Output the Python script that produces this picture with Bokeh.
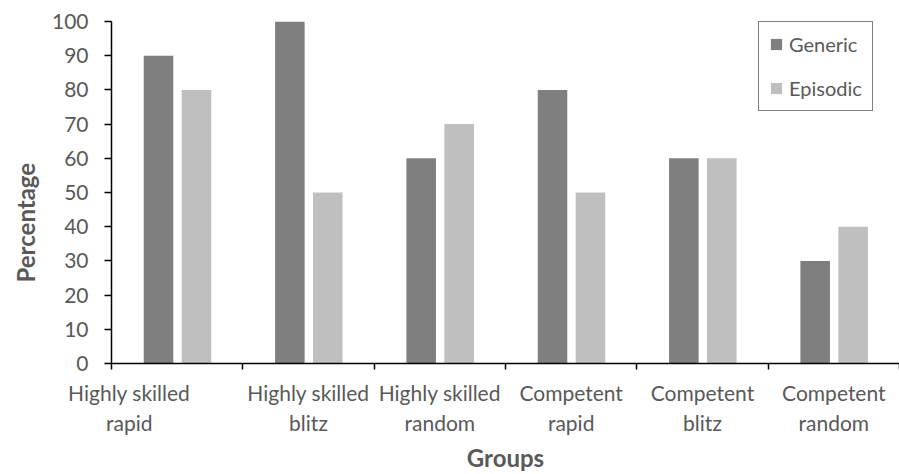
from bokeh.plotting import figure
from bokeh.models import (ColumnDataSource, Range1d, FixedTicker, Legend, LegendItem, Title)
from bokeh.transform import dodge
from bokeh.embed import file_html
from bokeh.resources import INLINE

categories = ["Highly skilled\nrapid", "Highly skilled\nblitz", "Highly skilled\nrandom",
              "Competent\nrapid", "Competent\nblitz", "Competent\nrandom"]
generic = [90, 100, 60, 80, 60, 30]
episodic = [80, 50, 70, 50, 60, 40]
y_ticks = [0, 10, 20, 30, 40, 50, 60, 70, 80, 90, 100]

FONT = "Lato"
TXT = "#595959"

n = len(categories)
centers = [i + 0.5 for i in range(n)]
boundaries = list(range(n + 1))
src = ColumnDataSource(dict(x=centers, generic=generic, episodic=episodic))

p = figure(width=899, height=474, output_backend="svg", toolbar_location=None,
           x_range=Range1d(0, n), y_range=Range1d(0, 100),
           min_border_left=111, min_border_top=21, min_border_right=0, min_border_bottom=111)
p.outline_line_color = None
p.xgrid.visible = False
p.ygrid.visible = False

r1 = p.vbar(x=dodge("x", -0.142, range=p.x_range), top="generic", width=0.225, source=src,
            fill_color="#7f7f7f", line_color=None)
r2 = p.vbar(x=dodge("x", 0.147, range=p.x_range), top="episodic", width=0.225, source=src,
            fill_color="#bfbfbf", line_color=None)

# y axis
ya = p.yaxis[0]
ya.ticker = FixedTicker(ticks=y_ticks)
ya.minor_tick_line_color = None
ya.major_tick_in = 0
ya.major_tick_out = 7
ya.axis_line_color = "black"
ya.axis_line_width = 1.5
ya.major_tick_line_color = "black"
ya.major_tick_line_width = 1.5
ya.major_label_text_font = FONT
ya.major_label_text_font_size = "21px"
ya.major_label_text_color = TXT
ya.major_label_standoff = 16

# y title, placed lower than the frame centre as in the reference
ytitle = Title(text="Percentage", align="left", offset=81, standoff=17,
               text_font=FONT, text_font_size="24px", text_font_style="bold",
               text_color=TXT)
p.add_layout(ytitle, "left")

# x axis: labels at category centers, tick marks (minor) at category boundaries
label_pos = list(centers)
label_pos[0] = label_pos[0] - 0.365  # first label drawn shifted left as in reference
xa = p.xaxis[0]
xa.ticker = FixedTicker(ticks=label_pos, minor_ticks=boundaries)
xa.major_label_overrides = {lp: c for lp, c in zip(label_pos, categories)}
xa.major_tick_line_color = None
xa.major_tick_in = 0
xa.major_tick_out = 6
xa.minor_tick_in = 0
xa.minor_tick_out = 6
xa.minor_tick_line_color = "black"
xa.minor_tick_line_width = 1.5
xa.axis_line_color = "black"
xa.axis_line_width = 1.5
xa.major_label_text_font = FONT
xa.major_label_text_font_size = "21px"
xa.major_label_text_color = TXT
xa.major_label_standoff = 10
xa.axis_label = "Groups"
xa.axis_label_text_font = FONT
xa.axis_label_text_font_style = "bold"
xa.axis_label_text_font_size = "24px"
xa.axis_label_text_color = TXT
xa.axis_label_standoff = 5

legend = Legend(items=[LegendItem(label="Generic", renderers=[r1]),
                       LegendItem(label="Episodic", renderers=[r2])],
                location=(647, 252))
legend.label_text_font = FONT
legend.label_text_font_size = "20px"
legend.label_text_color = TXT
legend.glyph_width = 14
legend.glyph_height = 14
legend.label_height = 20
legend.spacing = 20
legend.padding = 10
legend.label_standoff = 6
legend.border_line_color = "black"
legend.border_line_width = 1.5
legend.margin = 0
p.add_layout(legend, "center")

open("out.html", "w").write(file_html(p, INLINE))
